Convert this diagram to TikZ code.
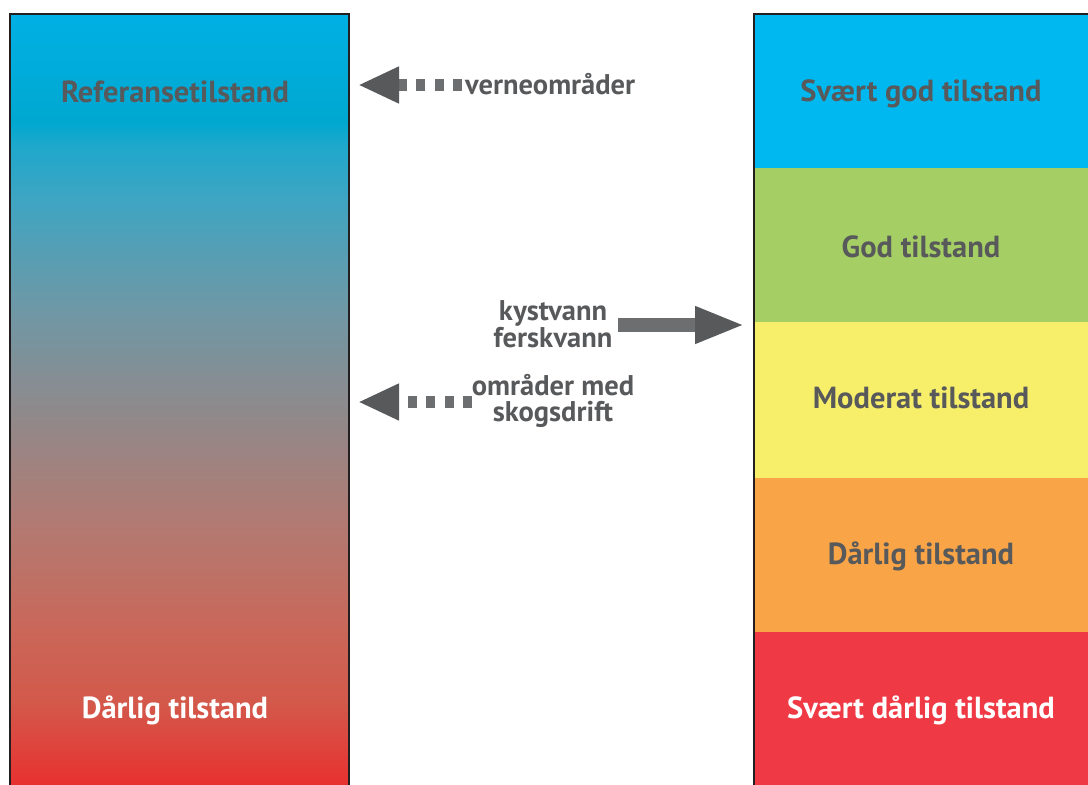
\documentclass[tikz,border=0pt]{standalone}
\usepackage{fontspec}
\setmainfont{PT Sans}
\usetikzlibrary{arrows.meta}
\definecolor{txtgray}{HTML}{58595B}
\definecolor{shaftgray}{HTML}{6D6E70}
\definecolor{bandblue}{HTML}{00B8F0}
\definecolor{bandgreen}{HTML}{A5CF65}
\definecolor{bandyellow}{HTML}{F7EE6A}
\definecolor{bandorange}{HTML}{F9A547}
\definecolor{bandred}{HTML}{EF3A45}
\definecolor{frame}{HTML}{231F20}
\definecolor{g0}{RGB}{232,48,47}
\definecolor{g1}{RGB}{211,89,75}
\definecolor{g2}{RGB}{201,104,90}
\definecolor{g3}{RGB}{178,122,114}
\definecolor{g4}{RGB}{142,138,140}
\definecolor{g5}{RGB}{110,152,166}
\definecolor{g6}{RGB}{63,165,194}
\definecolor{g7}{RGB}{30,168,204}
\definecolor{g8}{RGB}{0,168,208}
\definecolor{g9}{RGB}{0,176,228}
% path bounding box maps to 25bp..75bp of the shading
\pgfdeclareverticalshading{leftgrad}{100bp}{%
  color(0bp)=(g0);
  color(25bp)=(g0);
  color(30.5bp)=(g1);
  color(35.5bp)=(g2);
  color(42bp)=(g3);
  color(49.5bp)=(g4);
  color(56bp)=(g5);
  color(63bp)=(g6);
  color(66.5bp)=(g7);
  color(68bp)=(g8);
  color(75bp)=(g9);
  color(100bp)=(g9)}
\tikzset{
  lbl/.style={font=\bfseries\fontsize{30.5}{34}\selectfont, text=txtgray, inner sep=0pt},
  wlbl/.style={lbl, text=white},
  mid/.style={font=\bfseries\fontsize{28.5}{26}\selectfont, text=txtgray, inner sep=0pt, align=center},
  dasharrow/.style={draw=shaftgray, line width=12pt, dash pattern=on 9pt off 9.5pt,
     -{Triangle[length=41pt,width=34pt,color=txtgray]}},
  solidarrow/.style={draw=shaftgray, line width=14pt,
     -{Triangle[length=50pt,width=34pt,color=txtgray]}},
}
\begin{document}
\begin{tikzpicture}[x=1pt,y=-1pt]
\useasboundingbox (0,0) rectangle (1088,785);
% left column
\shade[shading=leftgrad] (10,14) rectangle (349,787);
\draw[frame, line width=2pt] (10,790) -- (10,14) -- (349,14) -- (349,790);
% right column
\fill[bandblue]   (754,14)  rectangle (1090,168);
\fill[bandgreen]  (754,168) rectangle (1090,322);
\fill[bandyellow] (754,322) rectangle (1090,478);
\fill[bandorange] (754,478) rectangle (1090,632);
\fill[bandred]    (754,632) rectangle (1090,790);
\draw[frame, line width=2pt] (754,790) -- (754,14) -- (1092,14);
% labels
\node[lbl]  (ref)   at (175,92)  {Referansetilstand};
\node[wlbl] (ldarl) at (175,710) {Dårlig tilstand};
\node[lbl]  (sgod)  at (921,94)  {Svært god tilstand};
\node[lbl]  (god)   at (921,247) {God tilstand};
\node[lbl]  (mod)   at (921,398) {Moderat tilstand};
\node[lbl]  (darl)  at (921,556) {Dårlig tilstand};
\node[wlbl] (sdarl) at (921,710) {Svært dårlig tilstand};
% middle
\node[mid, anchor=west] (verne) at (465,84) {verneområder};
\node[mid] (kyst) at (553,324) {kystvann\\ferskvann};
\node[mid] (skog) at (553,401) {områder med\\skogsdrift};
\coordinate (vtip) at (358,85);
\coordinate (ktip) at (745,325);
\coordinate (stip) at (358,402);
\coordinate (vstart) at (462,85);
\coordinate (kstart) at (618,325);
\coordinate (sstart) at (472,402);
\draw[dasharrow] (vstart) -- (vtip);
\draw[solidarrow] (kstart) -- (ktip);
\draw[dasharrow] (sstart) -- (stip);
\end{tikzpicture}
\end{document}
